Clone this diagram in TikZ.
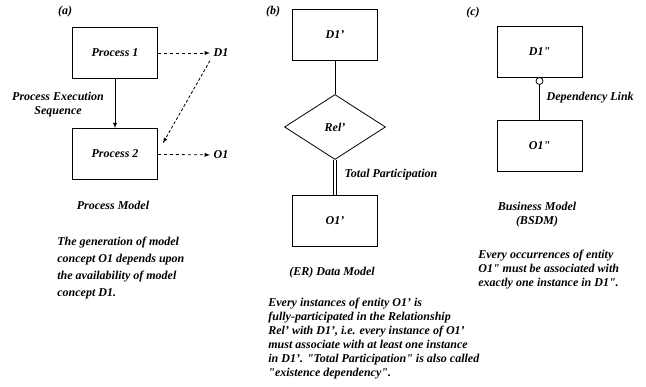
\documentclass[tikz,border=0pt]{standalone}
\usepackage{fontspec}
\setmainfont{Liberation Serif}[Ligatures=TeXOff]
\usetikzlibrary{positioning}
\usetikzlibrary{arrows}
\usetikzlibrary{shapes}

\begin{document}
\begin{tikzpicture}[x=1pt,y=-1pt,>=latex,line width=0.8pt,
font=\bfseries\itshape\fontsize{12}{14}\selectfont,
box/.style={draw,rectangle,minimum width=85pt,minimum height=51pt,inner sep=0pt},
rel/.style={draw,diamond,minimum width=101pt,minimum height=65pt,inner sep=0pt},
note/.style={align=left,anchor=north west,inner sep=0pt}]

\useasboundingbox (0,0) rectangle (646,387);

% (a) process model
\node (la) at (65,12) {(a)};
\node[box] (p1) at (115,53) {Process 1};
\node[box] (p2) at (115,154) {Process 2};
\node (d1) at (221,53) {D1};
\node (o1) at (221,155) {O1};
\coordinate (e2) at (163,143);
\draw[->] (p1) -- (p2);
\draw[dashed,->] (p1) -- (d1);
\draw[dashed,->] (p2) -- (o1);
\draw[dash pattern=on 3pt off 2pt,->] (d1.south west) -- (e2);
\node[align=center] (seq) at (58,105) {Process Execution\\Sequence};
\node (pm) at (113,205) {Process Model};
\node[note,font=\bfseries\itshape\fontsize{12}{17}\selectfont] (na) at (57,237)
  {The generation of model\\concept O1 depends upon\\the availability of model\\concept D1.};

% (b) ER data model
\node (lb) at (273,12) {(b)};
\node[box] (d1b) at (335,35) {D1’};
\node[rel] (relb) at (335,127) {Rel’};
\node[box] (o1b) at (335,221) {O1’};
\draw (d1b) -- (relb);
% total participation: double line
\draw[line width=0.7pt] ([xshift=-1.2pt]relb.south) -- ([xshift=-1.2pt]o1b.north);
\draw[line width=0.7pt] ([xshift=1.2pt]relb.south) -- ([xshift=1.2pt]o1b.north);
\node[anchor=west] (tp) at (341,175) {Total Participation};
\node (dm) at (332,273) {(ER) Data Model};
\node[note] (nb) at (268,298)
  {Every instances of entity O1’ is\\fully-participated in the Relationship\\Rel’ with D1’, i.e. every instance of O1’\\must associate with at least one instance\\in D1’. "Total Participation" is also called\\"existence dependency".};

% (c) business model
\node (lc) at (473,13) {(c)};
\node[box] (d1c) at (539.5,52) {D1"};
\node[box] (o1c) at (539.5,146) {O1"};
\node[circle,draw,fill=white,inner sep=0pt,minimum size=7pt] (knob) at (539.5,81) {};
\draw (knob) -- (o1c);
\node[anchor=west] (dl) at (543,98) {Dependency Link};
\node[align=center] (bm) at (537,215) {Business Model\\(BSDM)};
\node[note] (nc) at (478,250)
  {Every occurrences of entity\\O1" must be associated with\\exactly one instance in D1".};

\end{tikzpicture}
\end{document}
